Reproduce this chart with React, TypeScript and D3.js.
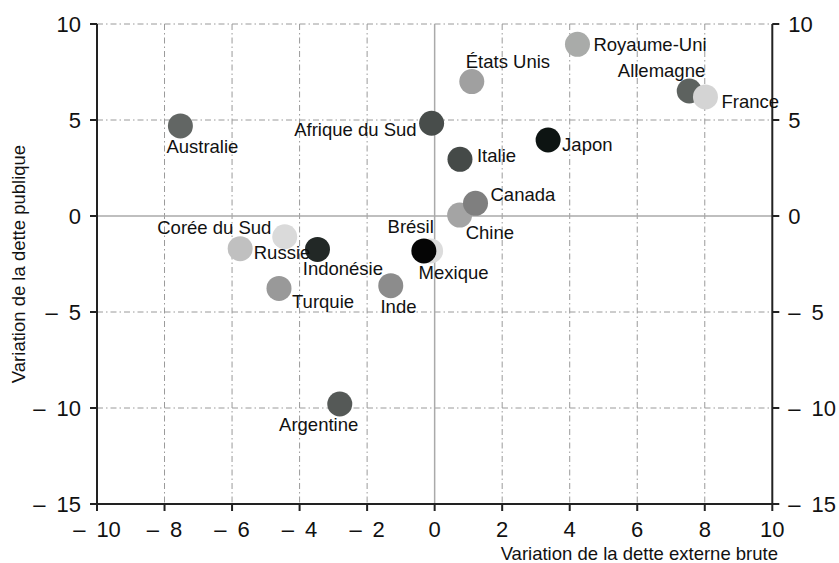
import React from "react";
import * as d3 from "d3";

const countries = ["Chine", "Canada", "Australie", "Afrique du Sud", "États Unis", "Italie", "Japon", "Royaume-Uni", "Allemagne", "France", "Mexique", "Brésil", "Inde", "Corée du Sud", "Russie", "Indonésie", "Turquie", "Argentine"];
const externalDebt = [0.74, 1.21, -7.53, -0.09, 1.1, 0.75, 3.36, 4.23, 7.54, 8.02, -0.12, -0.32, -1.3, -4.44, -5.76, -3.47, -4.61, -2.81];
const publicDebt = [0.05, 0.66, 4.69, 4.83, 7.0, 2.95, 3.96, 8.94, 6.51, 6.2, -1.82, -1.82, -3.63, -1.08, -1.7, -1.74, -3.77, -9.79];
const fills = ["#a4a4a4", "#7f7f7f", "#626664", "#484d4b", "#a0a0a0", "#454a48", "#0d1412", "#a9aba9", "#5d625f", "#d4d4d4", "#dcdcdc", "#050505", "#8c8c8c", "#dadada", "#c0c0c0", "#222826", "#999999", "#555957"];
// label offsets (layout): [dx, dy, anchor]
const labelPos: [number, number, string][] = [
  [6, 24, "start"], [15, -2, "start"], [-14, 27, "start"], [-15, 13, "end"], [-6, -14, "start"],
  [17, 2.5, "start"], [14, 11, "start"], [16, 6.5, "start"], [16, -14.5, "end"], [16, 10.7, "start"],
  [-12, 28, "start"], [10, -17.7, "end"], [-10.3, 27, "start"], [-13.3, -2.4, "end"], [13.6, 10.6, "start"],
  [-14.7, 25.7, "start"], [13, 20, "start"], [-60.7, 27, "start"],
];
const xTicks = [-10, -8, -6, -4, -2, 0, 2, 4, 6, 8, 10];
const yTicks = [10, 5, 0, -5, -10, -15];

const W = 839, H = 563;
const left = 97, right = 772.3, top = 24, bottom = 504;
const font = "'Liberation Sans', Arial, sans-serif";

function fmt(v: number) {
  return v < 0 ? "\u2013\u2002" + Math.abs(v) : String(v);
}

export default function App() {
  const x = d3.scaleLinear().domain([-10, 10]).range([left, right]);
  const y = d3.scaleLinear().domain([-15, 10]).range([bottom, top]);
  const grid = "#9a9a9a";
  const dash = "6,3,1.5,3";
  return (
    <svg width={W} height={H} style={{ position: "absolute", left: 0, top: 0, background: "#fff" }} fontFamily={font}>
      {xTicks.filter(t => t !== 0 && Math.abs(t) !== 10).map(t => (
        <line key={"gx" + t} x1={x(t)} x2={x(t)} y1={y(10)} y2={y(-15)} stroke={grid} strokeWidth={1} strokeDasharray={dash} />
      ))}
      {yTicks.filter(t => t !== 0 && t !== -15).map(t => (
        <line key={"gy" + t} x1={x(-10)} x2={x(10)} y1={y(t)} y2={y(t)} stroke={grid} strokeWidth={1} strokeDasharray={dash} />
      ))}
      <line x1={x(0)} x2={x(0)} y1={y(10)} y2={y(-15)} stroke="#aaaaaa" strokeWidth={1.5} />
      <line x1={x(-10)} x2={x(10)} y1={y(0)} y2={y(0)} stroke="#aaaaaa" strokeWidth={1.5} />
      {/* axes */}
      <line x1={x(-10)} x2={x(-10)} y1={y(10)} y2={y(-15) + 1} stroke="#222" strokeWidth={2} />
      <line x1={x(10)} x2={x(10)} y1={y(10)} y2={y(-15) + 1} stroke="#222" strokeWidth={2} />
      <line x1={x(-10) - 1} x2={x(10) + 1} y1={y(-15)} y2={y(-15)} stroke="#222" strokeWidth={2} />
      {yTicks.map(t => (
        <g key={"yt" + t}>
          <line x1={x(-10) - 7} x2={x(-10)} y1={y(t)} y2={y(t)} stroke="#222" strokeWidth={2} />
          <line x1={x(10)} x2={x(10) + 7} y1={y(t)} y2={y(t)} stroke="#222" strokeWidth={2} />
          <text x={x(-10) - 16} y={y(t)} dy="0.36em" textAnchor="end" fontSize={22} fill="#111">{fmt(t)}</text>
          <text x={x(10) + 16} y={y(t)} dy="0.36em" textAnchor="start" fontSize={22} fill="#111">{fmt(t)}</text>
        </g>
      ))}
      {xTicks.map(t => (
        <g key={"xt" + t}>
          <line x1={x(t)} x2={x(t)} y1={y(-15)} y2={y(-15) + 7} stroke="#222" strokeWidth={2} />
          <text x={x(t)} y={537} textAnchor="middle" fontSize={22} fill="#111">{fmt(t)}</text>
        </g>
      ))}
      <text x={778} y={560} textAnchor="end" fontSize={18.5} fill="#111">Variation de la dette externe brute</text>
      <text transform={`translate(25,${(top + bottom) / 2}) rotate(-90)`} textAnchor="middle" fontSize={18.5} fill="#111">Variation de la dette publique</text>
      {countries.map((c, i) => (
        <circle key={"c" + c} cx={x(externalDebt[i])} cy={y(publicDebt[i])} r={12.5} fill={fills[i]} />
      ))}
      {countries.map((c, i) => (
        <text key={"l" + c} x={x(externalDebt[i]) + labelPos[i][0]} y={y(publicDebt[i]) + labelPos[i][1]} textAnchor={labelPos[i][2] as any} fontSize={18.5} fill="#111">{c}</text>
      ))}
    </svg>
  );
}
